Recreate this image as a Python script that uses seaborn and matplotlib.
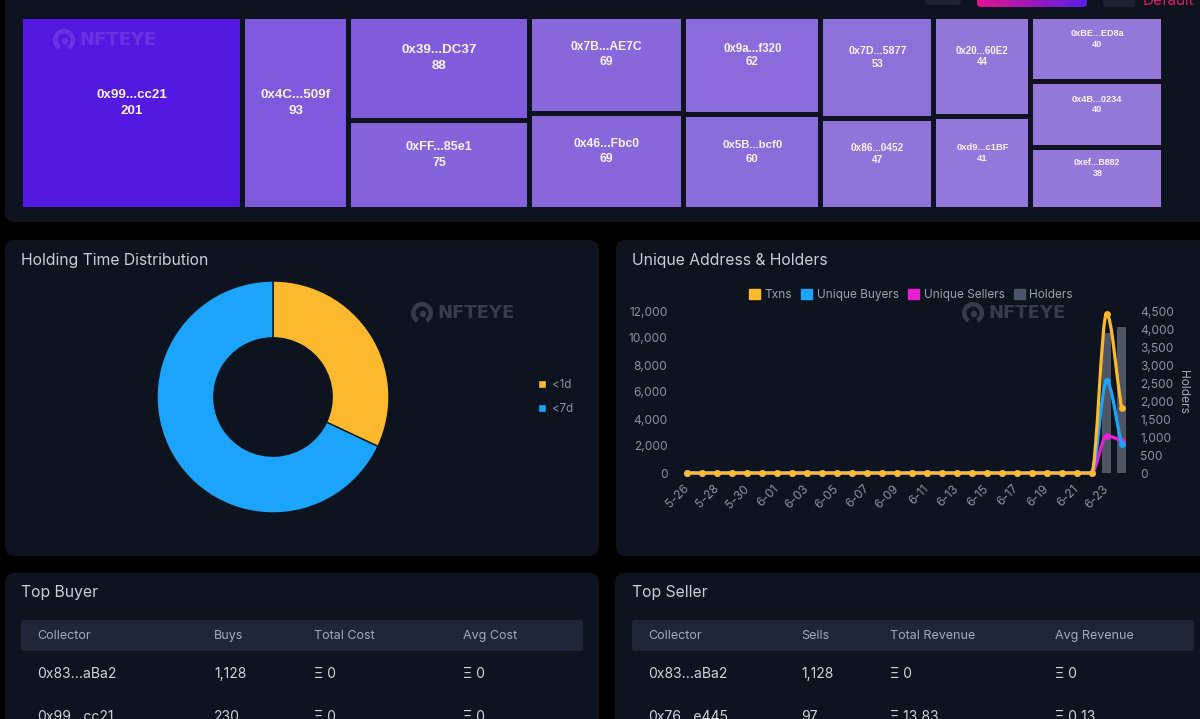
import numpy as np
import pandas as pd
import matplotlib
matplotlib.use("Agg")
import matplotlib.pyplot as plt
import seaborn as sns
from matplotlib.patches import FancyBboxPatch, Rectangle, Wedge, Circle, Patch, PathPatch
from matplotlib.path import Path
from matplotlib.colors import LinearSegmentedColormap, Normalize
from matplotlib.ticker import StrMethodFormatter

# ---- data -------------------------------------------------------------
tm_names = ['0x99...cc21', '0x4C...509f', '0x39...DC37', '0xFF...85e1', '0x7B...AE7C',
            '0x46...Fbc0', '0x9a...f320', '0x5B...bcf0', '0x7D...5877', '0x86...0452',
            '0x20...60E2', '0xd9...c1BF', '0xBE...ED8a', '0x4B...0234', '0xef...B882']
tm_values = [201, 93, 88, 75, 69, 69, 62, 60, 53, 47, 44, 41, 40, 40, 38]
tm_column_sizes = [1, 1, 2, 2, 2, 2, 2, 3]   # how many tiles stack in each treemap column

hold_labels = ['<1d', '<7d']
hold_values = [32, 68]

dates = [f"{d.month}-{d.day:02d}" for d in pd.date_range('2022-05-26', '2022-06-24')]
txns = [0, 0, 0, 0, 0, 0, 0, 0, 0, 0, 0, 0, 0, 0, 0, 0, 0, 0, 0, 0,
        0, 0, 0, 0, 0, 0, 0, 0, 11800, 4800]
buyers = [0, 0, 0, 0, 0, 0, 0, 0, 0, 0, 0, 0, 0, 0, 0, 0, 0, 0, 0, 0,
          0, 0, 0, 0, 0, 0, 0, 0, 6800, 2150]
sellers = [0, 0, 0, 0, 0, 0, 0, 0, 0, 0, 0, 0, 0, 0, 0, 0, 0, 0, 0, 0,
           0, 0, 0, 0, 0, 0, 0, 0, 2750, 2400]
holders = [0, 0, 0, 0, 0, 0, 0, 0, 0, 0, 0, 0, 0, 0, 0, 0, 0, 0, 0, 0,
           0, 0, 0, 0, 0, 0, 0, 0, 3900, 4050]

buyer_cols = ['Collector', 'Buys', 'Total Cost', 'Avg Cost']
buyer_addr = ['0x83...aBa2', '0x99...cc21']
buyer_count = [1128, 230]
buyer_total = [0, 0]
buyer_avg = [0, 0]

seller_cols = ['Collector', 'Sells', 'Total Revenue', 'Avg Revenue']
seller_addr = ['0x83...aBa2', '0x76...e445']
seller_count = [1128, 97]
seller_total = [0, 13.83]
seller_avg = [0, 0.13]

# ---- style ------------------------------------------------------------
sns.set_theme(style="dark")
plt.rcParams['font.family'] = ['Inter', 'DejaVu Sans']

PANEL = '#0e141f'
TITLE = '#c9cfd8'
MUTED = '#8b93a1'
C_TX, C_BUY, C_SELL, C_HOLD = '#fdb92e', '#1ca3fa', '#e81ed3', '#4a5468'

W, H = 1200, 719
fig = plt.figure(figsize=(12, 7.19), dpi=100, facecolor='black')


def px_axes(x0, y0, x1, y1):
    return fig.add_axes([x0 / W, 1 - y1 / H, (x1 - x0) / W, (y1 - y0) / H])


bg = px_axes(0, 0, W, H)
bg.set_facecolor('black')
bg.axis('off')


def panel(x0, y0, x1, y1):
    bg.add_patch(FancyBboxPatch((x0, y0), x1 - x0, y1 - y0,
                                boxstyle='round,pad=0,rounding_size=10', fc=PANEL, ec='none'))


panel(5, -30, 1230, 222)
panel(5, 240, 599, 556)
panel(616, 240, 1230, 556)
panel(5, 573, 599, 760)
panel(615, 573, 1230, 760)

# little header controls cut off at the top
bg.add_patch(FancyBboxPatch((925, -12), 36, 17, boxstyle='round,pad=0,rounding_size=4',
                            fc='#1c2230', ec='none'))
grad_box = FancyBboxPatch((977, -12), 110, 19, boxstyle='round,pad=0,rounding_size=4',
                          fc='none', ec='none')
bg.add_patch(grad_box)
im = bg.imshow(np.linspace(0, 1, 256)[None, :], extent=(977, 1087, 7, -12), aspect='auto',
               cmap=LinearSegmentedColormap.from_list('btn', ['#e0158f', '#5a1ee6']), zorder=2)
im.set_clip_path(grad_box)
bg.add_patch(FancyBboxPatch((1103, -12), 32, 19, boxstyle='round,pad=0,rounding_size=4',
                            fc='#1c2230', ec='none'))
bg.text(1143, 5, 'Default', color='#d81b60', fontsize=11, va='baseline')


def watermark(ax, x, y, color, alpha=1.0):
    ax.add_patch(Wedge((x, y), 11, 120, 420, width=4.5, fc=color, ec='none', alpha=alpha, zorder=1))
    ax.add_patch(Circle((x + 1, y + 1), 3.2, fc=color, ec='none', alpha=alpha, zorder=1))
    ax.text(x + 15, y, 'NFTEYE', color=color, alpha=alpha, fontsize=13, fontweight='bold',
            family=['DejaVu Sans'], va='center', ha='left', zorder=1)


# ---- treemap ----------------------------------------------------------
tx0, ty0, tx1, ty1 = 23, 19, 1161, 207
gap = 5
ax_tm = px_axes(tx0, ty0, tx1, ty1)
tw, th = tx1 - tx0, ty1 - ty0
ax_tm.set_xlim(0, tw)
ax_tm.set_ylim(th, 0)
ax_tm.axis('off')

vals = np.array(tm_values, float)
tm_cmap = LinearSegmentedColormap.from_list('tm', ['#9479da', '#5419e0'])
tm_norm = Normalize(vals.min(), vals.max())
usable_w = tw - gap * (len(tm_column_sizes) - 1)
x, i = 0.0, 0
for size in tm_column_sizes:
    col = vals[i:i + size]
    cw = usable_w * col.sum() / vals.sum()
    usable_h = th - gap * (size - 1)
    y = 0.0
    for v, name in zip(col, tm_names[i:i + size]):
        rh = usable_h * v / col.sum()
        ax_tm.add_patch(Rectangle((x, y), cw, rh, fc=tm_cmap(tm_norm(v)), ec='none'))
        fs = min(9.6, 0.075 * np.sqrt(cw * rh))
        lh = fs * 100 / 72 * 1.2
        cy = y + rh / 2 - 10
        for txt, yy in [(name, cy - lh / 2), (f'{v:g}', cy + lh / 2)]:
            ax_tm.text(x + cw / 2, yy, txt, color='#f6f3ff', fontsize=fs, fontweight='bold',
                       family=['Liberation Sans', 'DejaVu Sans'], ha='center', va='center')
        y += rh + gap
    x += cw + gap
    i += size
watermark(ax_tm, 64 - tx0, 40 - ty0, 'white', alpha=0.12)

# ---- donut ------------------------------------------------------------
bg.text(21, 260, 'Holding Time Distribution', fontsize=11.3, color=TITLE, va='center')
watermark(bg, 422, 313, '#363d49')
ax_pie = px_axes(157, 281, 389, 513)
wedges, _ = ax_pie.pie(hold_values, colors=[C_TX, C_BUY], startangle=90, counterclock=False,
                       radius=1, wedgeprops=dict(width=0.49, edgecolor=PANEL, linewidth=1))
ax_pie.set_xlim(-1.0, 1.0)
ax_pie.set_ylim(-1.0, 1.0)
fig.legend(wedges, hold_labels, loc='center left', bbox_to_anchor=(528 / W, 1 - 397 / H),
           frameon=False, fontsize=8.3, labelcolor=MUTED, handlelength=0.7, handleheight=0.7,
           handletextpad=0.5, labelspacing=1.0)

# ---- line + bar chart -------------------------------------------------
bg.text(632, 260, 'Unique Address & Holders', fontsize=11.3, color=TITLE, va='center')
watermark(bg, 973, 313, '#363d49')
ax1 = px_axes(680, 311, 1129, 473)
ax2 = ax1.twinx()
xs = np.arange(len(dates))

sns.barplot(x=xs, y=holders, native_scale=True, orient='x', width=0.65, color=C_HOLD,
            linewidth=0, errorbar=None, ax=ax2)


def smooth_path(x, y):
    x = np.asarray(x, float)
    y = np.asarray(y, float)
    d = np.diff(y) / np.diff(x)
    m = np.zeros_like(y)
    m[0], m[-1] = d[0], d[-1]
    for k in range(1, len(y) - 1):
        if d[k - 1] * d[k] > 0:
            m[k] = 2 / (1 / d[k - 1] + 1 / d[k])
    verts, codes = [(x[0], y[0])], [Path.MOVETO]
    for k in range(len(x) - 1):
        h = x[k + 1] - x[k]
        verts += [(x[k] + h / 3, y[k] + m[k] * h / 3),
                  (x[k + 1] - h / 3, y[k + 1] - m[k + 1] * h / 3),
                  (x[k + 1], y[k + 1])]
        codes += [Path.CURVE4] * 3
    return Path(verts, codes)


for z, (series, c) in enumerate([(sellers, C_SELL), (buyers, C_BUY), (txns, C_TX)]):
    ax1.add_patch(PathPatch(smooth_path(xs, series), fc='none', ec=c, lw=2.3,
                            clip_on=False, zorder=3 + 2 * z, capstyle='round'))
    sns.scatterplot(x=xs, y=series, color=c, s=24, linewidth=0, ax=ax1,
                    clip_on=False, zorder=4 + 2 * z)

ax1.set_zorder(ax2.get_zorder() + 1)
ax1.patch.set_visible(False)
ax2.patch.set_visible(False)

ax1.set_xlim(-0.5, len(dates) - 0.5)
ax1.set_ylim(0, 12000)
ax2.set_ylim(0, 4500)
ax1.set_yticks(range(0, 12001, 2000))
ax2.set_yticks(range(0, 4501, 500))
ax1.yaxis.set_major_formatter(StrMethodFormatter('{x:,.0f}'))
ax2.yaxis.set_major_formatter(StrMethodFormatter('{x:,.0f}'))
ax1.set_xticks(xs[::2])
ax1.set_xticklabels(dates[::2], rotation=45, ha='right', va='center', rotation_mode='anchor')
ax1.tick_params(axis='x', length=0, colors=MUTED, labelsize=8.6, pad=10)
ax1.tick_params(axis='y', length=0, colors=MUTED, labelsize=8.6, pad=9)
ax2.tick_params(axis='y', length=0, colors=MUTED, labelsize=8.6, pad=8)
ax2.tick_params(axis='x', bottom=False, labelbottom=False)
ax1.set_xlabel('')
ax1.set_ylabel('')
ax2.set_ylabel('Holders', rotation=270, va='bottom', color='#a0a8b5', fontsize=8.6, labelpad=2)
for ax in (ax1, ax2):
    ax.grid(False)
    for s in ax.spines.values():
        s.set_visible(False)

fig.legend([Patch(color=C_TX), Patch(color=C_BUY), Patch(color=C_SELL), Patch(color=C_HOLD)],
           ['Txns', 'Unique Buyers', 'Unique Sellers', 'Holders'],
           loc='center', bbox_to_anchor=(911 / W, 1 - 295 / H), ncol=4, frameon=False,
           fontsize=8.5, labelcolor='#9aa3af', handlelength=0.9, handleheight=0.9,
           handletextpad=0.4, columnspacing=0.8)


# ---- tables -----------------------------------------------------------
def table(x0, x1, title, headers, col_x, rows):
    bg.text(x0, 593, title, fontsize=11.3, color=TITLE, va='center')
    bg.add_patch(FancyBboxPatch((x0, 620), x1 - x0, 31, boxstyle='round,pad=0,rounding_size=3',
                                fc='#1e2637', ec='none'))
    for cx, h in zip(col_x, headers):
        bg.text(x0 + cx, 636, h, fontsize=9, color='#a3abb8', va='center')
    for r, row in enumerate(rows):
        for cx, cell in zip(col_x, row):
            bg.text(x0 + cx, 674 + 43 * r, cell, fontsize=10, color='#cfd4dc', va='center',
                    clip_on=True)


buyer_rows = [[a, f'{n:,}', f'Ξ {t:g}', f'Ξ {v:g}']
              for a, n, t, v in zip(buyer_addr, buyer_count, buyer_total, buyer_avg)]
seller_rows = [[a, f'{n:,}', f'Ξ {t:g}', f'Ξ {v:g}']
               for a, n, t, v in zip(seller_addr, seller_count, seller_total, seller_avg)]
table(21, 583, 'Top Buyer', buyer_cols, [16, 193, 293, 442], buyer_rows)
table(632, 1194, 'Top Seller', seller_cols, [16, 169, 258, 423], seller_rows)

bg.set_xlim(0, W)
bg.set_ylim(H, 0)

fig.savefig('out.png', dpi=100, facecolor='black')
